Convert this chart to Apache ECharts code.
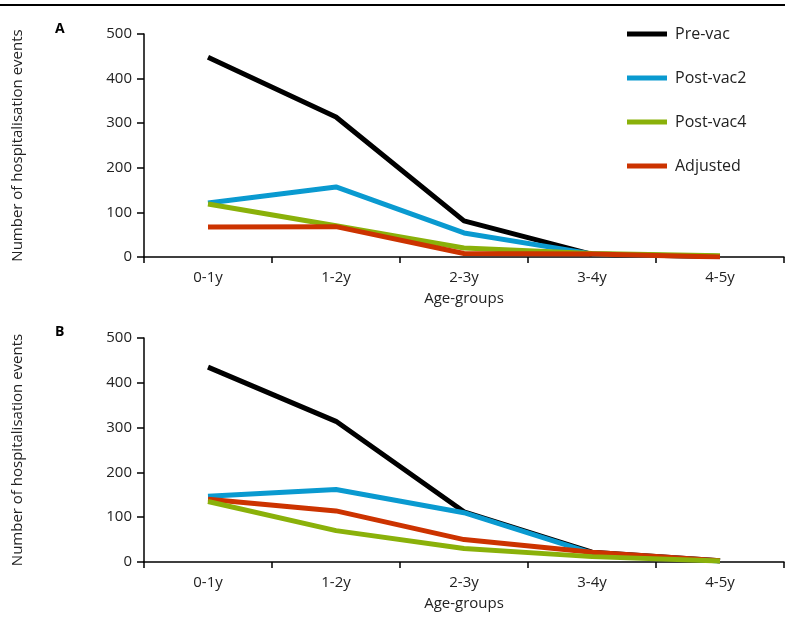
<!DOCTYPE html>
<html>
<head>
<meta charset="utf-8">
<script src="https://cdn.jsdelivr.net/npm/echarts@6/dist/echarts.min.js"></script>
<style>
  html, body { margin: 0; padding: 0; background: #fff; }
  #chart { width: 785px; height: 633px; }
</style>
</head>
<body>
<div id="chart"></div>
<script>
// age groups on the x axis
var ageGroups = ['0-1y', '1-2y', '2-3y', '3-4y', '4-5y'];
var seriesNames = ['Pre-vac', 'Post-vac2', 'Post-vac4', 'Adjusted'];
var colors = ['#000000', '#0a9ad0', '#8ab10a', '#cc3300'];

// panel A
var preVacA = [448, 314, 81, 6, 1];
var postVac2A = [121, 157, 54, 7, 1];
var postVac4A = [119, 70, 20, 8, 3];
var adjustedA = [67, 68, 8, 7, 0];

// panel B
var preVacB = [435, 314, 112, 22, 3];
var postVac2B = [147, 162, 110, 20, 2];
var postVac4B = [135, 70, 30, 12, 2];
var adjustedB = [140, 114, 50, 22, 3];

var font = 'Open Sans';

function xAxis(idx) {
    return {
        type: 'category',
        gridIndex: idx,
        data: ageGroups,
        boundaryGap: true,
        name: 'Age-groups',
        nameLocation: 'middle',
        nameGap: 34,
        nameTextStyle: { color: '#222', fontSize: 15, fontFamily: font },
        axisLine: { lineStyle: { color: '#000', width: 1.5 } },
        axisTick: { show: true, length: 6, lineStyle: { color: '#000', width: 1.5 } },
        axisLabel: { color: '#222', fontSize: 15, fontFamily: font, margin: 13 },
        splitLine: { show: false }
    };
}

function yAxis(idx) {
    return {
        type: 'value',
        gridIndex: idx,
        min: 0,
        max: 500,
        interval: 100,
        name: 'Number of hospitalisation events',
        nameLocation: 'middle',
        nameGap: 119,
        nameTextStyle: { color: '#222', fontSize: 15, fontFamily: font },
        axisLine: { show: true, lineStyle: { color: '#000', width: 1.5 } },
        axisTick: { show: true, length: 7, lineStyle: { color: '#000', width: 1.5 } },
        axisLabel: { color: '#222', fontSize: 15, fontFamily: font, margin: 12 },
        splitLine: { show: false }
    };
}

function line(name, data, idx, color) {
    return {
        name: name,
        type: 'line',
        xAxisIndex: idx,
        yAxisIndex: idx,
        data: data,
        symbol: 'none',
        lineStyle: { color: color, width: 5 },
        itemStyle: { color: color },
        emphasis: { disabled: true }
    };
}

var myChart = echarts.init(document.getElementById('chart'));
var option = {
    backgroundColor: '#fff',
    animation: false,
    graphic: [
        { type: 'rect', shape: { x: 0, y: 4, width: 785, height: 2 }, style: { fill: '#000' } },
        { type: 'text', left: 55, top: 22, style: { text: 'A', fontSize: 14, fontWeight: 'bold', fontFamily: font, fill: '#000' } },
        { type: 'text', left: 55, top: 325, style: { text: 'B', fontSize: 14, fontWeight: 'bold', fontFamily: font, fill: '#000' } }
    ],
    legend: {
        orient: 'vertical',
        left: 622,
        top: 19,
        icon: 'rect',
        itemWidth: 40,
        itemHeight: 5,
        itemGap: 24,
        data: seriesNames,
        textStyle: { color: '#222', fontSize: 16, fontFamily: font, lineHeight: 20, padding: [0, 0, 0, 3] }
    },
    grid: [
        { left: 144, top: 34, width: 640, height: 223 },
        { left: 144, top: 338, width: 640, height: 224 }
    ],
    xAxis: [xAxis(0), xAxis(1)],
    yAxis: [yAxis(0), yAxis(1)],
    series: [
        line('Pre-vac', preVacA, 0, colors[0]),
        line('Post-vac2', postVac2A, 0, colors[1]),
        line('Post-vac4', postVac4A, 0, colors[2]),
        line('Adjusted', adjustedA, 0, colors[3]),
        line('Pre-vac', preVacB, 1, colors[0]),
        line('Post-vac2', postVac2B, 1, colors[1]),
        line('Adjusted', adjustedB, 1, colors[3]),
        line('Post-vac4', postVac4B, 1, colors[2])
    ]
};
myChart.setOption(option);
</script>
</body>
</html>
